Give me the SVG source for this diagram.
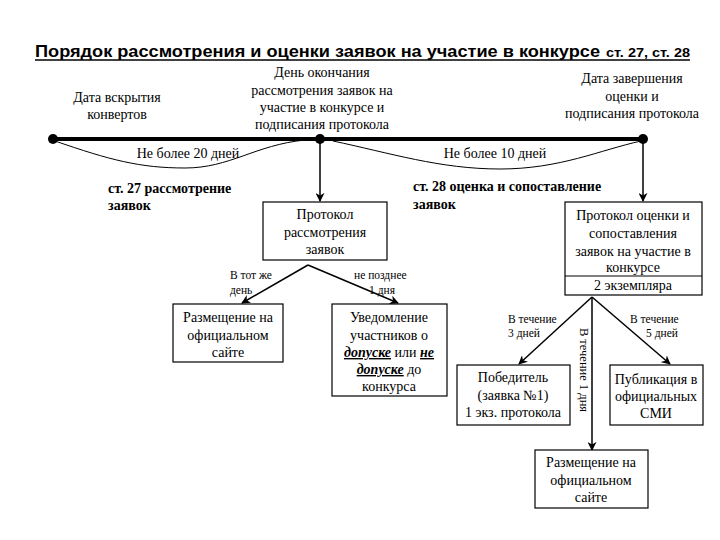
<svg xmlns="http://www.w3.org/2000/svg" width="720" height="540" viewBox="0 0 720 540">
<defs>
<marker id="ah" viewBox="0 0 10 10" refX="9" refY="5" markerWidth="9" markerHeight="9" markerUnits="userSpaceOnUse" orient="auto">
<path d="M0,0 L10,5 L0,10 L3,5 Z" fill="#000"/>
</marker>
</defs>
<style>
text{font-family:"Liberation Serif","DejaVu Serif",serif;font-size:14px;fill:#000}
.c{text-anchor:middle}
.b{font-weight:bold}
.s{font-size:11.5px}
.box{fill:#fff;stroke:#000;stroke-width:1.2}
.ln{fill:none;stroke:#000;stroke-width:1.5}
.arc{fill:none;stroke:#000;stroke-width:1}
.t{font-family:"Liberation Sans",Arial,sans-serif;font-weight:bold}
</style>
<rect width="720" height="540" fill="#fff"/>
<g id="title">
<text class="t" x="35" y="57" style="font-size:17px" textLength="565" lengthAdjust="spacingAndGlyphs">Порядок рассмотрения и оценки заявок на участие в конкурсе</text>
<text class="t" x="606" y="57" style="font-size:12.5px" textLength="84" lengthAdjust="spacingAndGlyphs">ст. 27, ст. 28</text>
<line x1="35" y1="60" x2="690" y2="60" stroke="#000" stroke-width="1.5"/>
</g>
<g id="timeline">
<line x1="53" y1="139" x2="643" y2="139" stroke="#000" stroke-width="4"/>
<circle cx="53" cy="139" r="5"/>
<circle cx="320" cy="139" r="5"/>
<circle cx="643" cy="139" r="5"/>
</g>
<g id="labels-top">
<text class="c" x="117" y="102">Дата вскрытия</text>
<text class="c" x="117" y="119">конвертов</text>
<text class="c" x="322" y="77">День окончания</text>
<text class="c" x="322" y="95">рассмотрения заявок на</text>
<text class="c" x="322" y="112">участие в конкурсе и</text>
<text class="c" x="322" y="129">подписания протокола</text>
<text class="c" x="632" y="83">Дата завершения</text>
<text class="c" x="632" y="101">оценки и</text>
<text class="c" x="632" y="118">подписания протокола</text>
</g>
<g id="connectors">
<path class="arc" d="M55,141 C110,160 140,168 185,168 C230,168 255,145 305,140"/>
<path class="arc" d="M333,141 C390,153 440,169 500,169 C560,169 600,150 641,141"/>
<line class="ln" x1="320" y1="139" x2="320" y2="201" marker-end="url(#ah)"/>
<line class="ln" x1="643" y1="139" x2="643" y2="201" marker-end="url(#ah)"/>
<line class="ln" x1="308" y1="265" x2="242" y2="303" marker-end="url(#ah)"/>
<line class="ln" x1="308" y1="265" x2="398" y2="303" marker-end="url(#ah)"/>
<line class="ln" x1="592" y1="297" x2="519" y2="364" marker-end="url(#ah)"/>
<line class="ln" x1="592" y1="297" x2="670" y2="364" marker-end="url(#ah)"/>
<line class="ln" x1="592" y1="297" x2="592" y2="450" marker-end="url(#ah)"/>
</g>
<g id="connector-labels">
<text class="c" x="188" y="158">Не более 20 дней</text>
<text class="c" x="495" y="158">Не более 10 дней</text>
<text class="s" x="230" y="279">В тот же</text>
<text class="s" x="230" y="294">день</text>
<text class="s" x="354" y="279">не позднее</text>
<text class="s" x="369" y="294">1 дня</text>
<text class="s" x="508" y="323">В течение</text>
<text class="s" x="508" y="337">3 дней</text>
<text class="s" x="630" y="323">В течение</text>
<text class="s" x="646" y="337">5 дней</text>
<text class="c" transform="translate(580,370) rotate(90)" style="font-size:12.5px">В течение 1 дня</text>
</g>
<g id="section-27">
<text class="b" x="108" y="193">ст. 27 рассмотрение</text>
<text class="b" x="108" y="210">заявок</text>
</g>
<g id="section-28">
<text class="b" x="413" y="191">ст. 28 оценка и сопоставление</text>
<text class="b" x="413" y="209">заявок</text>
</g>
<g id="protocol1">
<rect class="box" x="263" y="202" width="124" height="58"/>
<text class="c" x="325" y="219">Протокол</text>
<text class="c" x="325" y="237">рассмотрения</text>
<text class="c" x="325" y="254">заявок</text>
</g>
<g id="protocol2">
<rect class="box" x="565" y="202" width="137" height="93"/>
<line x1="565" y1="276" x2="702" y2="276" stroke="#000" stroke-width="1"/>
<text class="c" x="633" y="220">Протокол оценки и</text>
<text class="c" x="633" y="238">сопоставления</text>
<text class="c" x="633" y="256">заявок на участие в</text>
<text class="c" x="633" y="272">конкурсе</text>
<text class="c" x="633" y="290">2 экземпляра</text>
</g>
<g id="site1">
<rect class="box" x="173" y="304" width="110" height="58"/>
<text class="c" x="228" y="322">Размещение на</text>
<text class="c" x="228" y="340">официальном</text>
<text class="c" x="228" y="357">сайте</text>
</g>
<g id="notice">
<rect class="box" x="332" y="304" width="115" height="92"/>
<text class="c" x="389" y="322">Уведомление</text>
<text class="c" x="389" y="340">участников о</text>
<text class="c" x="389" y="357"><tspan font-weight="bold" font-style="italic" text-decoration="underline">допуске</tspan> или <tspan font-weight="bold" font-style="italic" text-decoration="underline">не</tspan></text>
<text class="c" x="389" y="374"><tspan font-weight="bold" font-style="italic" text-decoration="underline">допуске</tspan> до</text>
<text class="c" x="389" y="391">конкурса</text>
</g>
<g id="winner">
<rect class="box" x="457" y="365" width="113" height="60"/>
<text class="c" x="513" y="382">Победитель</text>
<text class="c" x="513" y="400">(заявка №1)</text>
<text class="c" x="513" y="417">1 экз. протокола</text>
</g>
<g id="media">
<rect class="box" x="610" y="365" width="93" height="60"/>
<text class="c" x="656" y="384">Публикация в</text>
<text class="c" x="656" y="401">официальных</text>
<text class="c" x="656" y="418">СМИ</text>
</g>
<g id="site2">
<rect class="box" x="535" y="450" width="113" height="58"/>
<text class="c" x="591" y="467">Размещение на</text>
<text class="c" x="591" y="485">официальном</text>
<text class="c" x="591" y="502">сайте</text>
</g>
</svg>
